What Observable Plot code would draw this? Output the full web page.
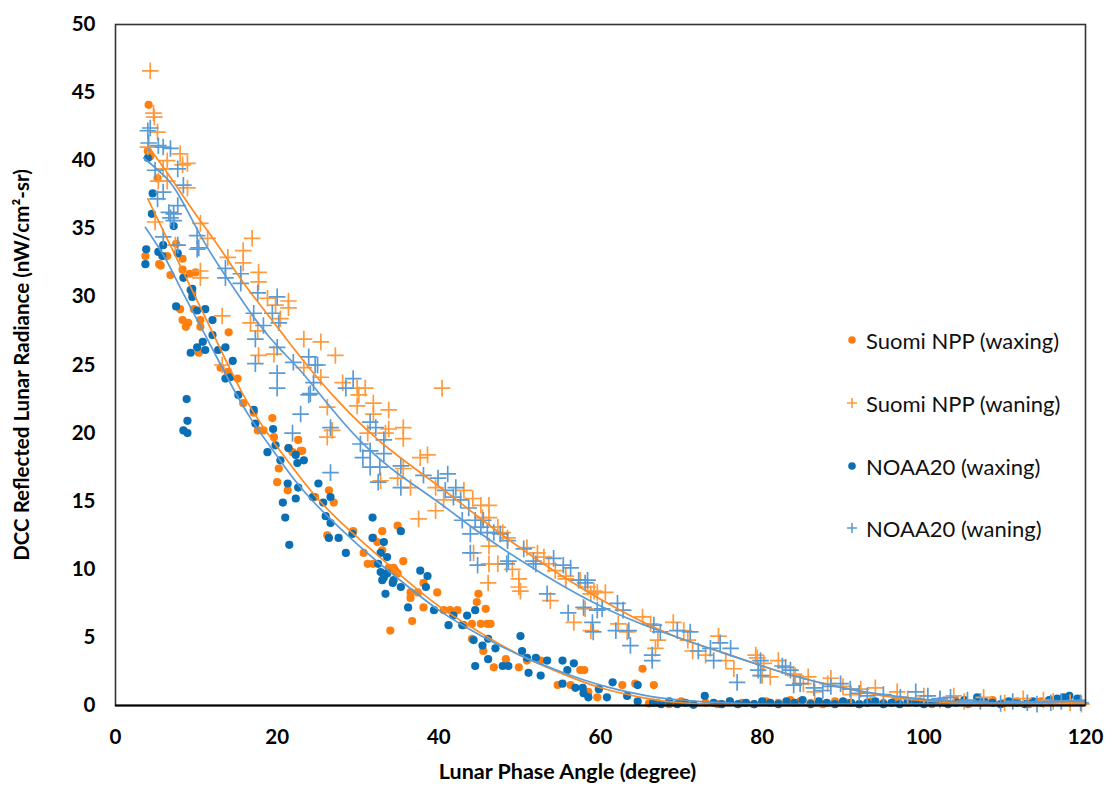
<!DOCTYPE html>
<html>
<head>
<meta charset="utf-8">
<script src="https://cdn.jsdelivr.net/npm/d3@7"></script>
<script src="https://cdn.jsdelivr.net/npm/@observablehq/plot@0.6"></script>
<style>
  html, body { margin: 0; padding: 0; background: #fff; }
  #wrap { position: relative; width: 1105px; height: 793px; font-family: Lato, "Open Sans", sans-serif; }
  #legend { position: absolute; left: 842px; top: 0; font-family: Lato, sans-serif; font-size: 22px; color: #111; }
  .row { position: absolute; left: 0; height: 30px; display: flex; align-items: center; white-space: nowrap; }
  .row svg { width: 20px; height: 20px; margin-right: 4px; }
</style>
</head>
<body>
<div id="wrap"></div>
<script>
// ---------- data ----------
const xTicks = [0, 20, 40, 60, 80, 100, 120];
const yTicks = [0, 5, 10, 15, 20, 25, 30, 35, 40, 45, 50];
const seriesNames = ["Suomi NPP (waxing)", "Suomi NPP (waning)", "NOAA20 (waxing)", "NOAA20 (waning)"];
const xLabel = "Lunar Phase Angle (degree)";
const yLabel = "DCC Reflected Lunar Radiance (nW/cm\u00B2-sr)";

// Suomi NPP waxing  [phase angle, radiance]
const suomiWaxing = [
[4.1,44.1],[4.0,40.7],[4.3,40.3],[5.2,38.7],[7.5,33.9],[3.7,33.0],[5.4,32.4],[6.4,33.0],[8.3,32.8],[8.3,32.0],
[9.2,31.7],[9.9,31.8],[6.8,31.6],[5.6,32.3],[9.5,30.3],[8.0,29.1],[8.3,28.3],[8.7,27.8],[9.0,28.1],[9.7,29.1],
[10.5,28.3],[10.5,27.8],[14.0,27.4],[10.3,25.9],[13.0,24.8],[13.9,24.5],[15.1,24.0],[15.8,22.2],[17.1,21.5],[17.6,20.2],
[18.3,20.2],[19.4,21.1],[19.6,19.7],[21.4,18.9],[21.9,18.6],[22.6,19.5],[22.9,18.7],[20.2,17.4],[20.0,16.4],[21.3,15.8],
[23.1,18.7],[24.7,15.3],[26.4,15.8],[27.0,14.9],[26.2,12.5],[29.4,12.8],[34.9,13.2],[33.0,12.8],[30.7,11.2],[31.2,10.4],
[31.9,12.3],[32.4,12.0],[33.0,11.4],[34.6,9.9],[35.6,10.6],[33.8,10.1],[31.9,10.4],[36.5,8.3],[37.4,8.3],[38.1,9.0],
[39.8,8.3],[34.0,5.5],[34.4,10.1],[34.9,9.7],[36.5,7.9],[36.7,6.2],[38.1,7.2],[40.6,7.0],[41.4,7.0],[42.3,7.0],
[43.1,5.9],[44.1,6.0],[44.9,8.2],[44.7,7.6],[45.8,7.1],[45.2,6.0],[46.0,6.0],[46.4,6.0],[44.1,4.9],[45.5,4.0],
[46.8,2.8],[48.3,3.4],[49.9,2.8],[50.9,3.3],[52.6,3.3],[54.7,1.5],[56.3,1.5],[57.5,2.6],[58.0,2.6],[58.5,1.0],
[59.6,0.6],[62.7,1.5],[64.3,1.6],[65.2,2.7],[66.6,1.5],[66.0,0.15],
[67.0,0.2],[68.5,0.1],[70.0,0.3],[71.5,0.1],[73.0,0.2],[74.5,0.1],[76.0,0.3],[77.5,0.2],[79.0,0.1],[80.5,0.3],
[82.0,0.2],[83.5,0.4],[84.7,0.3],[86.0,0.2],[87.5,0.1],[89.0,0.3],[90.5,0.2],[92.0,0.1],[93.5,0.3],[95.0,0.2],
[96.5,0.4],[98.0,0.2],[99.5,0.3],[101.0,0.1],[102.5,0.2],[104.0,0.3],[105.5,0.1],[107.0,0.2],[108.5,0.4],[110.0,0.2],
[111.5,0.3],[113.0,0.1],[114.5,0.3],[116.0,0.4],[117.5,0.5],[119.0,0.3]
];

// Suomi NPP waning
const suomiWaning = [
[4.3,46.6],[4.7,43.5],[4.8,43.2],[5.2,42.1],[4.0,41.0],[8.0,40.5],[6.4,40.0],[8.3,39.7],[8.9,39.8],[5.9,39.4],
[5.3,38.5],[6.4,38.5],[8.9,38.0],[4.9,35.5],[10.5,35.4],[11.4,34.3],[16.9,34.3],[15.8,33.4],[15.8,32.5],[13.9,32.9],
[17.7,31.8],[17.7,31.1],[10.5,31.9],[10.5,31.4],[7.4,33.8],[18.8,29.9],[19.8,29.4],[21.4,29.7],[21.4,29.2],[20.4,28.4],
[16.7,28.1],[17.6,27.5],[13.2,28.6],[23.3,26.9],[25.4,26.7],[17.7,25.7],[19.6,25.8],[27.2,25.7],[23.3,24.8],[25.4,24.1],
[13.2,25.0],[28.1,23.7],[29.9,23.3],[30.9,23.3],[30.1,22.8],[29.9,22.0],[31.9,22.2],[31.9,21.4],[26.8,20.2],[26.2,19.7],
[31.2,20.0],[33.4,20.0],[32.8,16.5],[40.4,23.3],[33.8,21.7],[26.2,21.9],[33.8,20.3],[35.6,20.4],[35.6,19.6],[37.7,18.2],
[38.6,18.4],[35.6,17.4],[34.9,16.7],[36.5,16.0],[39.6,16.0],[40.6,15.1],[39.6,14.3],[37.5,13.7],[43.1,15.8],[44.2,15.2],
[45.2,14.7],[46.2,14.7],[45.4,13.8],[46.2,13.8],[47.3,13.1],[47.9,12.7],[48.5,12.3],[44.3,11.2],[46.2,11.7],[46.2,10.4],
[47.3,10.4],[49.1,10.0],[49.9,9.3],[50.9,11.6],[52.2,11.2],[53.0,10.9],[53.6,10.4],[54.4,9.9],[55.7,9.3],[57.5,9.2],
[58.4,8.7],[59.2,8.4],[46.1,9.0],[49.9,8.7],[50.1,8.4],[53.8,7.7],[55.7,9.5],[56.7,6.1],[58.8,5.5],[58.8,8.2],
[59.6,8.3],[60.6,8.3],[58.1,7.1],[62.2,6.0],[63.3,5.4],[65.2,6.5],[66.2,6.0],[67.1,4.8],[66.8,4.2],[69.0,6.1],
[70.3,5.5],[70.8,4.8],[71.4,4.0],[74.6,5.1],[73.0,3.7],[75.5,3.3],[76.5,2.7],[79.4,3.5],[80.0,2.2],[82.0,3.3],
[84.1,2.2],[79.2,3.7],[80.2,3.1],[81.0,2.1],[83.9,2.3],[85.1,1.6],[85.7,2.1],[88.1,1.6],[88.5,2.0],[94.0,1.3],
[92.2,1.2],[96.7,1.0],[100.0,0.7],[103.7,0.7],[107.4,0.6],[112.3,0.5],[114.8,0.4],[118.1,0.2],[90.0,1.4],[98.0,0.5],
[102.0,0.4],[105.0,0.3],[110.0,0.2],[116.0,0.3],[119.5,0.1],[86.5,1.0],[91.0,0.8]
];

// NOAA20 waxing
const noaaWaxing = [
[4.0,40.2],[4.6,37.6],[4.5,36.1],[7.2,35.2],[3.8,33.5],[5.3,33.3],[5.8,33.0],[5.9,33.8],[7.7,33.2],[3.7,32.4],
[8.4,31.4],[9.5,30.6],[9.3,30.5],[9.5,30.0],[7.5,29.3],[11.1,29.1],[12.0,28.3],[10.1,29.0],[12.0,27.2],[10.8,26.7],
[11.1,26.1],[9.3,25.9],[10.1,26.3],[12.7,26.1],[13.6,26.3],[14.5,25.3],[13.6,24.0],[14.2,24.1],[15.2,22.8],[17.1,21.7],
[17.3,20.7],[8.8,22.5],[8.9,20.9],[8.4,20.2],[8.9,20.0],[19.5,20.3],[18.8,18.6],[19.8,19.1],[20.4,18.0],[21.4,18.9],
[22.3,18.4],[22.5,17.8],[23.3,18.0],[21.3,16.3],[22.6,16.0],[25.1,16.3],[20.7,14.9],[22.3,15.2],[24.4,15.3],[26.6,15.3],
[21.5,11.8],[21.0,13.8],[25.7,14.9],[26.0,13.9],[26.6,13.4],[26.4,12.3],[27.6,12.3],[29.3,12.6],[28.5,11.2],[31.8,13.8],
[35.3,12.8],[31.8,12.3],[33.2,12.0],[32.8,11.2],[33.6,10.9],[32.5,10.4],[32.8,9.8],[33.6,9.7],[33.0,9.2],[34.4,9.2],
[34.3,9.0],[33.4,8.2],[35.3,8.7],[37.7,9.9],[38.6,9.5],[38.4,8.7],[33.2,9.4],[36.2,7.2],[39.4,7.0],[41.2,5.9],
[41.8,6.6],[42.9,5.9],[43.5,6.6],[44.5,7.0],[44.3,4.8],[45.4,4.4],[46.1,4.9],[47.0,4.2],[46.1,3.4],[44.5,2.9],
[47.9,2.9],[48.6,2.9],[50.1,5.1],[50.3,4.0],[50.9,3.5],[52.0,3.5],[51.1,2.4],[52.6,2.2],[53.4,3.3],[55.3,3.3],
[56.7,3.1],[55.9,2.6],[55.3,1.6],[56.9,1.3],[57.8,1.3],[57.9,0.9],[58.5,0.6],[59.8,1.2],[60.8,0.6],[61.5,1.7],
[63.3,0.7],[64.6,1.5],[64.6,0.3],
[66.5,0.2],[67.5,0.1],[68.5,0.3],[69.5,0.1],[70.5,0.2],[71.5,0.05],[72.9,0.7],[74.0,0.2],[75.0,0.1],[76.0,0.3],
[77.0,0.1],[78.0,0.2],[79.0,0.1],[80.0,0.3],[81.0,0.2],[82.0,0.1],[83.0,0.3],[84.0,0.2],[85.0,0.4],[86.0,0.1],
[87.0,0.3],[88.0,0.2],[89.0,0.1],[90.0,0.3],[91.0,0.2],[92.0,0.1],[93.0,0.2],[94.0,0.3],[95.0,0.1],[96.0,0.2],
[97.0,0.1],[98.0,0.3],[99.0,0.2],[100.0,0.1],[101.0,0.2],[102.0,0.3],[103.0,0.1],[104.0,0.2],[105.0,0.4],[106.6,0.6],
[107.5,0.3],[108.5,0.2],[109.5,0.1],[110.5,0.3],[111.5,0.2],[112.5,0.1],[113.5,0.3],[114.5,0.2],[115.5,0.4],[116.5,0.5],
[117.3,0.6],[118.0,0.7],[119.0,0.5]
];

// NOAA20 waning
const noaaWaning = [
[4.3,42.4],[4.0,42.2],[4.1,41.3],[5.3,41.1],[5.9,41.0],[6.8,40.9],[4.9,39.3],[7.7,39.4],[5.9,37.7],[5.2,37.2],
[8.4,38.2],[6.6,36.2],[7.2,36.1],[6.8,35.8],[7.2,35.6],[7.7,36.7],[10.1,34.5],[5.9,34.4],[10.3,33.6],[10.1,33.5],
[13.6,32.1],[13.6,31.4],[15.5,31.7],[15.5,31.0],[7.7,33.8],[17.6,30.3],[20.0,30.0],[17.1,28.8],[18.3,27.9],[19.4,28.8],
[20.2,28.1],[17.3,26.9],[20.0,26.3],[17.3,25.1],[22.0,25.2],[23.9,25.6],[25.0,25.0],[24.5,23.7],[20.0,24.4],[20.0,23.3],
[23.9,22.8],[29.4,24.0],[28.5,23.3],[22.9,21.4],[26.6,20.4],[21.9,20.0],[31.5,20.8],[32.2,20.4],[30.3,19.2],[31.5,18.7],
[33.2,19.5],[30.6,18.2],[33.2,18.5],[31.5,17.5],[32.7,17.5],[26.6,17.1],[32.5,16.4],[24.7,25.0],[24.1,22.9],[35.3,17.6],
[35.3,16.0],[38.1,16.9],[39.9,16.7],[41.1,17.0],[40.8,15.8],[42.1,16.0],[41.8,15.3],[42.7,15.1],[43.7,14.5],[42.9,13.6],
[44.5,13.6],[45.5,13.6],[45.2,13.1],[43.9,12.6],[46.0,12.7],[46.8,12.7],[47.6,12.6],[48.5,12.1],[43.9,11.2],[44.8,10.3],
[48.6,10.6],[50.5,11.5],[51.7,10.6],[54.2,10.8],[55.4,10.3],[56.3,10.1],[53.4,8.2],[57.3,9.2],[58.4,9.2],[48.4,10.4],
[52.0,10.4],[56.0,6.8],[58.1,9.0],[57.9,7.2],[59.6,7.0],[59.0,6.1],[59.1,5.4],[60.2,7.1],[62.1,7.5],[62.8,7.0],
[61.9,5.5],[63.5,5.5],[63.7,4.4],[66.6,5.9],[67.4,5.4],[66.4,3.7],[66.4,3.3],[69.5,5.5],[71.1,5.4],[72.1,4.0],
[73.6,4.2],[74.0,3.3],[74.8,4.6],[76.1,4.2],[76.9,1.7],[79.5,2.6],[82.9,2.8],[83.9,1.5],[79.8,3.3],[79.8,2.2],
[82.5,2.9],[83.5,2.6],[84.7,1.6],[86.4,1.3],[87.5,1.1],[89.7,1.6],[90.9,1.2],[93.0,0.7],[97.1,0.6],[99.0,1.0],
[100.5,0.7],[103.3,0.6],[105.4,0.4],[109.5,0.15],[112.8,0.2],[115.7,0.2],[119.4,0.2],[95.0,0.8],[102.0,0.5],[107.0,0.3],
[111.0,0.3],[114.0,0.1],[117.0,0.3],[88.5,1.4],[92.0,0.9]
];

// Trend lines
const suomiWaxingTrend = [
[4,37.2],[8,32.3],[12,27.4],[16,22.6],[20,19.0],[25,15.2],[30,12.3],[35,9.7],[40,7.3],[45,5.4],
[50,3.7],[55,2.4],[60,1.3],[65,0.6],[70,0.2],[80,0.0],[90,0.0],[100,0.05],[110,0.1],[120,0.3]
];
const noaaWaxingTrend = [
[3.7,35.1],[6,33.0],[8,30.7],[11,27.3],[14,23.9],[16.7,21.1],[20,18.3],[23.8,15.4],[30,11.8],[35,9.3],
[40,7.0],[45,5.2],[50,3.7],[55,2.5],[60,1.5],[65,0.8],[70,0.4],[80,0.1],[90,0.1],[100,0.1],[110,0.2],[120,0.4]
];
const suomiWaningTrend = [
[4,41.1],[7,38.6],[10,36.0],[13,33.5],[16,30.9],[20,27.8],[23,25.5],[27,22.7],[31,20.3],[35,18.3],
[40,16.1],[45,13.8],[50,11.6],[55,9.6],[60,7.8],[65,6.2],[70,4.9],[75,3.9],[80,2.9],[85,2.0],
[90,1.3],[95,0.7],[100,0.35],[105,0.15],[110,0.05],[115,0.05],[120,0.15]
];
const noaaWaningTrend = [
[3.5,40.2],[6,38.9],[8,37.3],[11,34.0],[14,31.2],[17,28.6],[20,26.4],[23,24.5],[27,21.6],[31,19.0],
[35,17.0],[40,14.9],[45,12.7],[50,10.7],[55,8.9],[60,7.3],[65,6.0],[70,4.9],[75,3.9],[80,2.9],
[85,2.0],[90,1.3],[95,0.8],[100,0.45],[105,0.25],[110,0.2],[115,0.25],[120,0.35]
];

// ---------- styles ----------
const cSuomiDot = "#FF7F0E";
const cSuomiPlus = "#FF9A3D";
const cNoaaDot = "#0A6FB4";
const cNoaaPlus = "#5B9BD5";
const cSuomiLine = "#FF8A22";
const cNoaaLine = "#5B9BD5";

const toObj = a => a.map(([x, y]) => ({x, y}));

const chart = Plot.plot({
  width: 1105,
  height: 793,
  marginLeft: 115,
  marginRight: 20,
  marginTop: 24,
  marginBottom: 88,
  style: {fontFamily: "Lato, 'Open Sans', sans-serif", color: "#000", background: "#fff"},
  x: {domain: [0, 120]},
  y: {domain: [0, 50]},
  marks: [
    Plot.axisY({ticks: yTicks, tickSize: 0, tickPadding: 20, fontSize: 20.5, fontWeight: "bold",
      label: null}),
    Plot.text([yLabel], {frameAnchor: "left", dx: -93, rotate: -90, textAnchor: "middle", text: d => d, fontSize: 20.5, fontWeight: "bold", fill: "#000"}),
    Plot.axisX({ticks: xTicks, tickSize: 0, tickPadding: 24, fontSize: 20.5, fontWeight: "bold", label: null}),
    Plot.text([xLabel], {frameAnchor: "bottom", dy: 73, dx: -33, text: d => d, fontSize: 21.5, fontWeight: "bold", fill: "#000"}),
    Plot.dot(toObj(suomiWaxing), {x: "x", y: "y", r: 4.1, fill: cSuomiDot, stroke: "none"}),
    Plot.dot(toObj(noaaWaxing), {x: "x", y: "y", r: 4.1, fill: cNoaaDot, stroke: "none"}),
    Plot.dot(toObj(suomiWaning), {x: "x", y: "y", r: 5.4, symbol: "plus", stroke: cSuomiPlus, strokeWidth: 1.7}),
    Plot.dot(toObj(noaaWaning), {x: "x", y: "y", r: 5.4, symbol: "plus", stroke: cNoaaPlus, strokeWidth: 1.7}),
    Plot.line(toObj(suomiWaxingTrend), {x: "x", y: "y", stroke: cSuomiLine, strokeWidth: 1.7, curve: "natural"}),
    Plot.line(toObj(noaaWaxingTrend), {x: "x", y: "y", stroke: cNoaaLine, strokeWidth: 1.7, curve: "natural"}),
    Plot.line(toObj(suomiWaningTrend), {x: "x", y: "y", stroke: cSuomiLine, strokeWidth: 1.7, curve: "natural"}),
    Plot.line(toObj(noaaWaningTrend), {x: "x", y: "y", stroke: cNoaaLine, strokeWidth: 1.7, curve: "natural"}),
    Plot.frame({stroke: "#333", strokeWidth: 1.6}),
    Plot.ruleY([0], {stroke: "#000", strokeWidth: 2})
  ]
});

const wrap = document.getElementById("wrap");
wrap.appendChild(chart);

// ---------- legend (HTML overlay inside the plot area) ----------
const legend = document.createElement("div");
legend.id = "legend";
const legendSymbols = [
  `<svg viewBox="-10 -10 20 20"><circle r="3.8" fill="${cSuomiDot}"/></svg>`,
  `<svg viewBox="-10 -10 20 20"><path d="M-5,0H5M0,-5V5" stroke="${cSuomiPlus}" stroke-width="1.6"/></svg>`,
  `<svg viewBox="-10 -10 20 20"><circle r="3.8" fill="${cNoaaDot}"/></svg>`,
  `<svg viewBox="-10 -10 20 20"><path d="M-5,0H5M0,-5V5" stroke="${cNoaaPlus}" stroke-width="1.6"/></svg>`
];
const rowCenters = [340, 403, 466, 528];
seriesNames.forEach((name, i) => {
  const row = document.createElement("div");
  row.className = "row";
  row.style.top = (rowCenters[i] - 15) + "px";
  row.innerHTML = legendSymbols[i] + `<span>${name}</span>`;
  legend.appendChild(row);
});
wrap.appendChild(legend);
</script>
</body>
</html>
